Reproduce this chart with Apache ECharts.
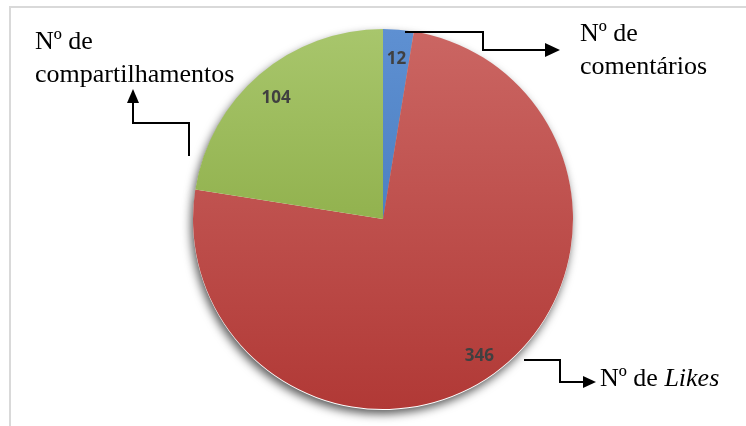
<!DOCTYPE html>
<html>
<head>
<meta charset="utf-8">
<script src="https://cdn.jsdelivr.net/npm/echarts@6/dist/echarts.min.js"></script>
<style>
html,body{margin:0;padding:0;background:#fff;}
#chart{width:746px;height:426px;}
</style>
</head>
<body>
<div id="chart"></div>
<script>
const categories = ['Nº de comentários', 'Nº de Likes', 'Nº de compartilhamentos'];
const values = [12, 346, 104];
const topColors = ['#5e90d2', '#cb6663', '#a8c66c'];
const bottomColors = ['#3c70b2', '#b13936', '#7c9e31'];

const chart = echarts.init(document.getElementById('chart'), null, {renderer: 'canvas'});

const CX = 383, CY = 219, R = 190;

function grad(i) {
  return new echarts.graphic.LinearGradient(0, CY - R, 0, CY + R, [
    {offset: 0, color: topColors[i]},
    {offset: 1, color: bottomColors[i]}
  ], true);
}

const baseData = categories.map((c, i) => ({name: c, value: values[i]}));

const serif = '"Liberation Serif", "Times New Roman", serif';

function arrowLine(points, head) {
  return [
    {type: 'polyline', shape: {points: points}, style: {stroke: '#000', lineWidth: 2, fill: null}, z: 10},
    {type: 'polygon', shape: {points: head}, style: {fill: '#000'}, z: 10}
  ];
}

function txt(x, y, text) {
  return {
    type: 'text', x: x, y: y, z: 10,
    style: {
      text: text,
      font: '26px ' + serif,
      fill: '#000',
      textAlign: 'left',
      textVerticalAlign: 'middle'
    }
  };
}

const option = {
  backgroundColor: '#fff',
  animation: false,
  graphic: [
    {type: 'rect', shape: {x: 10, y: 7, width: 740, height: 425}, style: {fill: null, stroke: '#d9d9d9', lineWidth: 2}, z: 0},
    ...arrowLine([[405, 32], [483, 32], [483, 50], [546, 50]], [[545, 43], [560, 50], [545, 57]]),
    ...arrowLine([[189, 156], [189, 123], [133, 123], [133, 103]], [[127, 103], [133, 89], [139, 103]]),
    ...arrowLine([[524, 360], [560, 360], [560, 382], [584, 382]], [[583, 376], [596, 382], [583, 388]]),
    txt(35, 42, 'Nº de'),
    txt(35, 75, 'compartilhamentos'),
    txt(580, 34, 'Nº de'),
    txt(580, 67, 'comentários'),
    {
      type: 'text', x: 600, y: 379, z: 10,
      style: {
        text: '{n|Nº de }{i|Likes}',
        fill: '#000',
        textAlign: 'left',
        textVerticalAlign: 'middle',
        rich: {
          n: {font: '26px ' + serif, fill: '#000'},
          i: {font: 'italic 26px ' + serif, fill: '#000'}
        }
      }
    }
  ],
  series: [
    {
      type: 'pie',
      center: [CX, CY + 1],
      radius: R,
      startAngle: 90,
      clockwise: true,
      silent: true,
      z: 1,
      label: {show: false},
      labelLine: {show: false},
      itemStyle: {
        color: '#ffffff',
        shadowBlur: 10,
        shadowColor: 'rgba(0,0,0,0.65)',
        shadowOffsetX: -2,
        shadowOffsetY: 4
      },
      data: baseData
    },
    {
      type: 'pie',
      center: [CX, CY],
      radius: R,
      startAngle: 90,
      clockwise: true,
      silent: true,
      z: 2,
      label: {show: false},
      labelLine: {show: false},
      itemStyle: {borderWidth: 0},
      data: categories.map((c, i) => ({name: c, value: values[i], itemStyle: {color: grad(i)}}))
    },
    {
      type: 'pie',
      center: [CX, CY + 4],
      radius: [R * 0.7, R],
      startAngle: 90,
      clockwise: true,
      silent: true,
      z: 3,
      itemStyle: {color: 'rgba(0,0,0,0)', borderWidth: 0},
      label: {
        show: true,
        position: 'inside',
        formatter: '{c}',
        fontFamily: '"Open Sans", sans-serif',
        fontWeight: 'bold',
        fontSize: 17,
        color: '#404040'
      },
      labelLine: {show: false},
      data: baseData
    }
  ]
};

chart.setOption(option);
</script>
</body>
</html>
